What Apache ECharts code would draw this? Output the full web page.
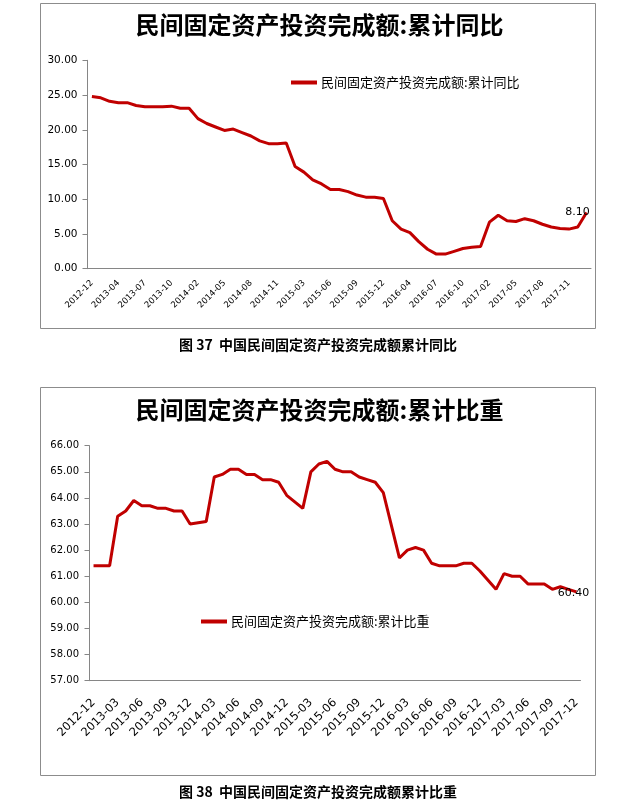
<!DOCTYPE html>
<html><head><meta charset="utf-8">
<script src="https://cdn.jsdelivr.net/npm/echarts@6/dist/echarts.min.js"></script>
<style>html,body{margin:0;padding:0;background:#fff}#c{width:639px;height:810px}</style>
</head><body><div id="c"></div>
<script>
// ---- Chart 1: cumulative YoY growth (January not published) ----
const cats1 = ['2012-12',
 '2013-02','2013-03','2013-04','2013-05','2013-06','2013-07','2013-08','2013-09','2013-10','2013-11','2013-12',
 '2014-02','2014-03','2014-04','2014-05','2014-06','2014-07','2014-08','2014-09','2014-10','2014-11','2014-12',
 '2015-02','2015-03','2015-04','2015-05','2015-06','2015-07','2015-08','2015-09','2015-10','2015-11','2015-12',
 '2016-02','2016-03','2016-04','2016-05','2016-06','2016-07','2016-08','2016-09','2016-10','2016-11','2016-12',
 '2017-02','2017-03','2017-04','2017-05','2017-06','2017-07','2017-08','2017-09','2017-10','2017-11','2017-12',
 '2018-02'];
const growth = [24.8,
 24.6,24.1,23.9,23.9,23.5,23.3,23.3,23.3,23.4,23.1,23.1,
 21.6,20.9,20.4,19.9,20.1,19.6,19.1,18.4,18.0,18.0,18.1,
 14.7,13.9,12.8,12.2,11.4,11.4,11.1,10.6,10.3,10.3,10.1,
 6.9,5.7,5.2,3.9,2.8,2.1,2.1,2.5,2.9,3.1,3.2,
 6.7,7.7,6.9,6.8,7.2,6.9,6.4,6.0,5.8,5.7,6.0,
 8.1];

// ---- Chart 2: cumulative share (January months have no value) ----
const cats2 = ['2012-12',
 '2013-01','2013-02','2013-03','2013-04','2013-05','2013-06','2013-07','2013-08','2013-09','2013-10','2013-11','2013-12',
 '2014-01','2014-02','2014-03','2014-04','2014-05','2014-06','2014-07','2014-08','2014-09','2014-10','2014-11','2014-12',
 '2015-01','2015-02','2015-03','2015-04','2015-05','2015-06','2015-07','2015-08','2015-09','2015-10','2015-11','2015-12',
 '2016-01','2016-02','2016-03','2016-04','2016-05','2016-06','2016-07','2016-08','2016-09','2016-10','2016-11','2016-12',
 '2017-01','2017-02','2017-03','2017-04','2017-05','2017-06','2017-07','2017-08','2017-09','2017-10','2017-11','2017-12'];
const share = [61.4,
 null,61.4,63.3,63.5,63.9,63.7,63.7,63.6,63.6,63.5,63.5,63.0,
 null,63.1,64.8,64.9,65.1,65.1,64.9,64.9,64.7,64.7,64.6,64.1,
 null,63.6,65.0,65.3,65.4,65.1,65.0,65.0,64.8,64.7,64.6,64.2,
 null,61.7,62.0,62.1,62.0,61.5,61.4,61.4,61.4,61.5,61.5,61.2,
 null,60.5,61.1,61.0,61.0,60.7,60.7,60.7,60.5,60.6,60.5,60.4];

const name1 = '民间固定资产投资完成额:累计同比';
const name2 = '民间固定资产投资完成额:累计比重';
const caption1 = '图 37  中国民间固定资产投资完成额累计同比';
const caption2 = '图 38  中国民间固定资产投资完成额累计比重';

const RED = '#C00000';
const AXIS = '#868686';
const CJK = '"Noto Sans CJK SC", sans-serif';
const NUM = '"DejaVu Sans", sans-serif';

function lastLabel(arr, offset) {
  return arr.map((v, i) => i === arr.length - 1 ? {
    value: v,
    label: { show: true, position: 'inside', offset: offset, color: '#000',
      fontFamily: NUM, fontSize: 11, formatter: p => Number(p.value).toFixed(2) }
  } : v);
}

const chart = echarts.init(document.getElementById('c'), null, { renderer: 'canvas' });
chart.setOption({
  animation: false,
  backgroundColor: '#fff',
  title: [
    { text: name1, left: 'center', top: 13, padding: 0,
      textStyle: { fontFamily: CJK, fontWeight: 'bold', fontSize: 24, color: '#000' } },
    { text: name2, left: 'center', top: 398, padding: 0,
      textStyle: { fontFamily: CJK, fontWeight: 'bold', fontSize: 24, color: '#000' } }
  ],
  legend: [
    { data: [name1], left: 291, top: 76, padding: 0, icon: 'rect', itemWidth: 26, itemHeight: 4, itemGap: 6,
      textStyle: { fontFamily: CJK, fontSize: 13, color: '#000', padding: [0,0,0,-1] } },
    { data: [name2], left: 201, top: 615, padding: 0, icon: 'rect', itemWidth: 26, itemHeight: 4, itemGap: 6,
      textStyle: { fontFamily: CJK, fontSize: 13, color: '#000', padding: [0,0,0,-1] } }
  ],
  grid: [
    { left: 87.5, top: 60.3, width: 503.5, height: 208.4, containLabel: false },
    { left: 89.5, top: 445.7, width: 491, height: 235, containLabel: false }
  ],
  xAxis: [
    { type: 'category', gridIndex: 0, data: cats1, boundaryGap: true,
      axisLine: { lineStyle: { color: AXIS, width: 1 } },
      axisTick: { interval: 1, length: 4, lineStyle: { color: AXIS } },
      axisLabel: { interval: 2, rotate: 45, margin: 13, fontFamily: NUM, fontSize: 8.5, color: '#000' },
      splitLine: { show: false } },
    { type: 'category', gridIndex: 1, data: cats2, boundaryGap: true,
      axisLine: { lineStyle: { color: AXIS, width: 1 } },
      axisTick: { interval: 2, length: 4, lineStyle: { color: AXIS } },
      axisLabel: { interval: 2, rotate: 45, margin: 20, fontFamily: NUM, fontSize: 11.5, color: '#000' },
      splitLine: { show: false } }
  ],
  yAxis: [
    { type: 'value', gridIndex: 0, min: 0, max: 30, interval: 5,
      axisLine: { show: true, lineStyle: { color: AXIS } },
      axisTick: { show: true, length: 5, lineStyle: { color: AXIS } },
      axisLabel: { margin: 10, fontFamily: NUM, fontSize: 10.5, color: '#000', formatter: v => v.toFixed(2) },
      splitLine: { show: false } },
    { type: 'value', gridIndex: 1, min: 57, max: 66, interval: 1,
      axisLine: { show: true, lineStyle: { color: AXIS } },
      axisTick: { show: true, length: 5, lineStyle: { color: AXIS } },
      axisLabel: { margin: 10.5, fontFamily: NUM, fontSize: 10, color: '#000', formatter: v => v.toFixed(2) },
      splitLine: { show: false } }
  ],
  series: [
    { name: name1, type: 'line', xAxisIndex: 0, yAxisIndex: 0, data: lastLabel(growth, [-9, 0]),
      symbol: 'circle', symbolSize: 0.01, showSymbol: true, showAllSymbol: true,
      lineStyle: { color: RED, width: 3 }, itemStyle: { color: RED } },
    { name: name2, type: 'line', xAxisIndex: 1, yAxisIndex: 1, data: lastLabel(share, [-3, 1]),
      connectNulls: true, symbol: 'circle', symbolSize: 0.01, showSymbol: true, showAllSymbol: true,
      lineStyle: { color: RED, width: 3 }, itemStyle: { color: RED } }
  ],
  graphic: [
    { type: 'rect', shape: { x: 40.5, y: 3.5, width: 555, height: 325 },
      style: { fill: 'none', stroke: '#8c8c8c', lineWidth: 1 }, silent: true },
    { type: 'rect', shape: { x: 40.5, y: 387.5, width: 555, height: 388 },
      style: { fill: 'none', stroke: '#8c8c8c', lineWidth: 1 }, silent: true },
    { type: 'text', x: 318, y: 345, style: { text: caption1, textAlign: 'center', textVerticalAlign: 'middle',
      font: 'bold 14px "Noto Sans CJK SC", sans-serif', fill: '#000' } },
    { type: 'text', x: 318, y: 792, style: { text: caption2, textAlign: 'center', textVerticalAlign: 'middle',
      font: 'bold 14px "Noto Sans CJK SC", sans-serif', fill: '#000' } }
  ]
});
</script>
</body></html>
